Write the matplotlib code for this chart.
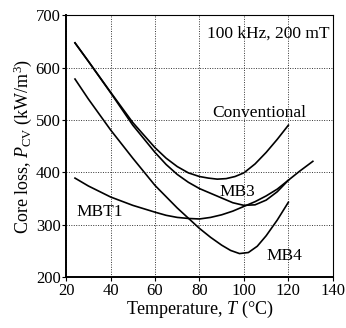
import matplotlib
matplotlib.use('Agg')
import matplotlib.pyplot as plt

plt.rcParams['font.family'] = ['Liberation Serif', 'DejaVu Serif']
plt.rcParams['mathtext.fontset'] = 'custom'
plt.rcParams['mathtext.rm'] = 'Liberation Serif'
plt.rcParams['mathtext.it'] = 'Liberation Serif:italic'

# data (temperature in C, core loss in kW/m3)
conv_t = [24, 30, 40, 50, 60, 65, 70, 75, 80, 84, 88, 92, 96, 100, 105, 110, 115, 120]
conv_p = [647, 612, 553, 495, 447, 427, 411, 399, 392, 389, 387, 388, 392, 399, 416, 438, 463, 490]

mb3_t = [24, 30, 40, 50, 60, 65, 70, 75, 80, 85, 90, 95, 100, 105, 110, 115, 120, 125, 131]
mb3_p = [647, 612, 552, 490, 438, 415, 396, 381, 369, 360, 351, 342, 337, 338, 347, 363, 385, 402, 421]

mbt1_t = [24, 30, 40, 50, 60, 65, 70, 75, 80, 85, 90, 95, 100, 105, 110, 115, 120]
mbt1_p = [389, 374, 353, 337, 324, 318, 314, 312, 311, 314, 319, 326, 335, 344, 355, 368, 385]

mb4_t = [24, 30, 40, 50, 60, 70, 80, 85, 90, 94, 98, 102, 106, 110, 115, 120]
mb4_p = [578, 540, 481, 427, 375, 332, 293, 276, 261, 251, 245, 247, 259, 279, 309, 343]

fig = plt.figure(figsize=(3.46, 3.28), dpi=100)
ax = fig.add_axes([0.191, 0.155, 0.771, 0.799])

for t, p in [(conv_t, conv_p), (mb3_t, mb3_p), (mbt1_t, mbt1_p), (mb4_t, mb4_p)]:
    ax.plot(t, p, color='black', lw=1.2)

ax.set_xlim(20, 140)
ax.set_ylim(200, 700)
ax.set_xticks(range(20, 141, 20))
ax.set_yticks(range(200, 701, 100))
ax.grid(True, linestyle=(0, (1, 1.5)), color='#333333', lw=0.7)
ax.tick_params(direction='out', length=3, labelsize=12, pad=1)
for s in ['left', 'bottom']:
    ax.spines[s].set_linewidth(1.4)
for s in ['top', 'right']:
    ax.spines[s].set_linewidth(0.8)

ax.set_xlabel('Temperature, $T$ (°C)', fontsize=13, labelpad=0)
ax.set_ylabel(r'Core loss, $P_{\rm CV}$ (kW/m$^3$)', fontsize=13, labelpad=1)

ax.text(138.5, 665, '100 kHz, 200 mT', ha='right', va='center', fontsize=12.5)
ax.text(107, 513, 'Conventional', ha='center', va='center', fontsize=12.5)
ax.text(97, 362, 'MB3', ha='center', va='center', fontsize=12.5)
ax.text(35, 325, 'MBT1', ha='center', va='center', fontsize=12.5)
ax.text(118, 240, 'MB4', ha='center', va='center', fontsize=12.5)

fig.savefig('out.png', dpi=100)
